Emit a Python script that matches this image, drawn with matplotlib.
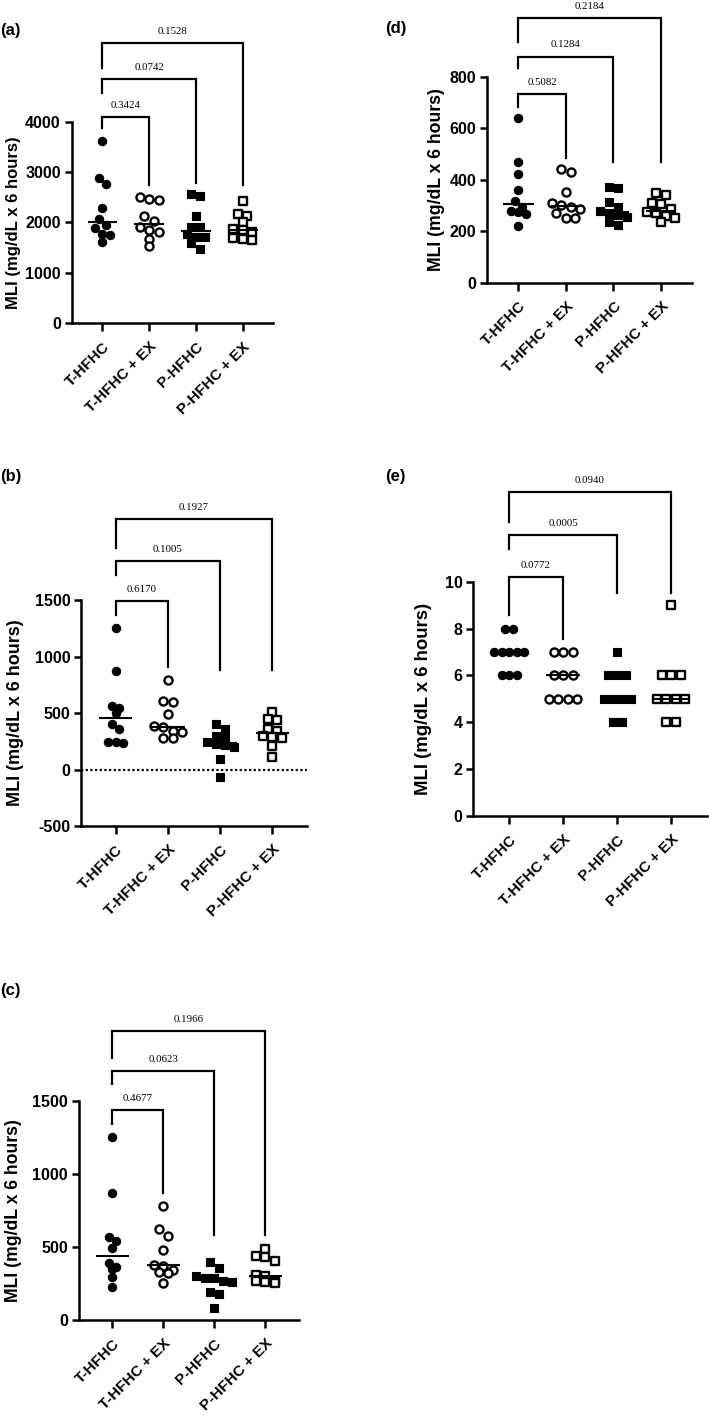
import matplotlib
matplotlib.use('Agg')
import matplotlib.pyplot as plt
import numpy as np

plt.rcParams['font.family'] = ['Liberation Sans', 'DejaVu Sans']
plt.rcParams['font.weight'] = 'bold'

groups = ['T-HFHC', 'T-HFHC + EX', 'P-HFHC', 'P-HFHC + EX']

# panel (a)
a_t = [3615, 2875, 2756, 2292, 2068, 1949, 1883, 1765, 1760, 1618]
a_tex = [2499, 2465, 2445, 2134, 2035, 1916, 1850, 1817, 1672, 1539]
a_p = [2564, 2531, 2134, 1904, 1900, 1771, 1717, 1705, 1586, 1473]
a_pex = [2420, 2170, 2130, 2010, 1870, 1840, 1820, 1700, 1670, 1650]
a_pvals = ['0.3424', '0.0742', '0.1528']

# panel (b)
b_t = [1257, 873, 563, 549, 501, 407, 357, 244, 240, 236]
b_tex = [790, 607, 600, 490, 385, 375, 345, 330, 280, 275]
b_p = [407, 355, 300, 290, 240, 230, 215, 200, 90, -65]
b_pex = [510, 450, 440, 360, 340, 300, 290, 280, 210, 110]
b_pvals = ['0.6170', '0.1005', '0.1927']

# panel (c)
c_t = [1251, 872, 566, 543, 491, 392, 365, 347, 297, 224]
c_tex = [781, 621, 578, 480, 380, 370, 340, 330, 320, 256]
c_p = [395, 354, 300, 290, 285, 270, 260, 195, 180, 85]
c_pex = [490, 440, 430, 405, 310, 300, 270, 265, 260, 255]
c_pvals = ['0.4677', '0.0623', '0.1966']

# panel (d)
d_t = [638, 470, 420, 358, 318, 295, 280, 275, 265, 220]
d_tex = [440, 428, 353, 308, 300, 292, 285, 270, 252, 250]
d_p = [372, 368, 312, 295, 280, 270, 262, 255, 235, 222]
d_pex = [350, 340, 310, 305, 285, 275, 270, 260, 250, 235]
d_pvals = ['0.5082', '0.1284', '0.2184']

# panel (e)
e_t = [8, 8, 7, 7, 7, 7, 7, 6, 6, 6]
e_tex = [7, 7, 7, 6, 6, 6, 5, 5, 5, 5]
e_p = [7, 6, 6, 6, 5, 5, 5, 5, 4, 4]
e_pex = [9, 6, 6, 6, 5, 5, 5, 5, 4, 4]
e_pvals = ['0.0772', '0.0005', '0.0940']

# bracket levels (data units): top, left-leg end, right-leg end
a_br = ([4097, 4839, 5564], [3867, 4573, 5057], [2743, 2782, 2743])
b_br = ([1492, 1846, 2221], [1366, 1725, 1965], [908, 879, 879])
c_br = ([1438, 1706, 1980], [1343, 1614, 1793], [868, 582, 582])
d_br = ([733, 878, 1027], [683, 832, 936], [485, 470, 470])
e_br = ([10.19, 11.99, 13.84], [8.58, 11.38, 12.56], [7.55, 9.53, 9.53])

XLIM = (-0.66, 3.66)


def rows_layout(vals, px_x, px_y, step_px, row_px=6.5):
    # Prism-like scatter: values close in pixel space share a row, spread evenly about centre
    vals = np.asarray(vals, float)
    order = np.argsort(-vals, kind='stable')
    offs = np.zeros(len(vals))
    row = [order[0]]
    rows = []
    for i in order[1:]:
        if (vals[row[0]] - vals[i]) * px_y < row_px:
            row.append(i)
        else:
            rows.append(row)
            row = [i]
    rows.append(row)
    for r in rows:
        n = len(r)
        pos = (np.arange(n) - (n - 1) / 2) * step_px
        for k, i in enumerate(r):
            offs[i] = pos[k]
    return offs / px_x


def panel(fig, rect, data, ylim, yticks, pvals, br, label, lab_pos, ysize, ylab_x, zero_line=False):
    ax = fig.add_axes(rect)
    ax.set_xlim(*XLIM)
    ax.set_ylim(*ylim)
    fw, fh = fig.get_size_inches() * fig.dpi
    px_x = rect[2] * fw / (XLIM[1] - XLIM[0])
    px_y = rect[3] * fh / (ylim[1] - ylim[0])

    styles = [dict(marker='o', facecolor='black', edgecolor='black', s=36, linewidths=0.8),
              dict(marker='o', facecolor='white', edgecolor='black', s=34, linewidths=1.7),
              dict(marker='s', facecolor='black', edgecolor='black', s=38, linewidths=0.8),
              dict(marker='s', facecolor='white', edgecolor='black', s=36, linewidths=1.7)]
    steps = [7.5, 9.5, 9.0, 9.5]
    for i, vals in enumerate(data):
        xo = rows_layout(vals, px_x, px_y, steps[i])
        ax.scatter(i + xo, vals, zorder=3, clip_on=False, **styles[i])
        med = np.median(vals)
        ax.plot([i - 0.32, i + 0.32], [med, med], color='black', lw=1.5, zorder=4,
                solid_capstyle='butt')

    if zero_line:
        ax.axhline(0, color='black', lw=1.6, ls=(0, (1, 1.1)), zorder=1)

    tops, lefts, rights = br
    for k in range(3):
        j = k + 1
        ax.plot([0, 0, j, j], [lefts[k], tops[k], tops[k], rights[k]], color='black',
                lw=1.6, clip_on=False, solid_joinstyle='miter', zorder=2)
        ax.annotate(pvals[k], xy=(j / 2, tops[k]), xytext=(0, 8.3), textcoords='offset points',
                    ha='center', va='center', fontsize=7.8, fontweight='normal',
                    family=['Liberation Serif', 'DejaVu Serif'], annotation_clip=False)

    for s in ['top', 'right']:
        ax.spines[s].set_visible(False)
    for s in ['left', 'bottom']:
        ax.spines[s].set_linewidth(1.8)
    ax.set_yticks(yticks)
    ax.set_yticklabels([str(t) for t in yticks], fontsize=11.5, fontweight='bold')
    ax.set_xticks(range(4))
    ax.set_xticklabels(groups, rotation=45, ha='right', va='top', rotation_mode='anchor',
                       fontsize=11, fontweight='bold')
    ax.tick_params(axis='y', width=1.8, length=4.8, pad=3)
    ax.tick_params(axis='x', width=1.8, length=5.8, pad=6)
    ax.set_ylabel('MLI (mg/dL x 6 hours)', fontsize=ysize, fontweight='bold')
    ax.yaxis.set_label_coords(ylab_x, 0.5)
    fig.text(lab_pos[0], lab_pos[1], label, fontsize=12, fontweight='bold',
             ha='left', va='center')
    return ax


fig = plt.figure(figsize=(7.09, 14.24), dpi=100)

panel(fig, [0.1011, 0.7730, 0.2845, 0.1416], [a_t, a_tex, a_p, a_pex], (0, 4000),
      [0, 1000, 2000, 3000, 4000], a_pvals, a_br, '(a)', (0.0, 1 - 30 / 1424), 12, -0.253)
panel(fig, [0.1145, 0.4199, 0.3181, 0.1587], [b_t, b_tex, b_p, b_pex], (-500, 1500),
      [-500, 0, 500, 1000, 1500], b_pvals, b_br, '(b)', (0.0, 1 - 476.7 / 1424), 13, -0.254,
      zero_line=True)
panel(fig, [0.1109, 0.0730, 0.3107, 0.1538], [c_t, c_tex, c_p, c_pex], (0, 1500),
      [0, 500, 1000, 1500], c_pvals, c_br, '(c)', (0.0, 1 - 990 / 1424), 12.7, -0.256)
panel(fig, [0.6867, 0.8015, 0.2900, 0.1447], [d_t, d_tex, d_p, d_pex], (0, 800),
      [0, 200, 400, 600, 800], d_pvals, d_br, '(d)', (385 / 709, 1 - 28 / 1424), 12.7, -0.204)
panel(fig, [0.6677, 0.4270, 0.3290, 0.1645], [e_t, e_tex, e_p, e_pex], (0, 10),
      [0, 2, 4, 6, 8, 10], e_pvals, e_br, '(e)', (385 / 709, 1 - 476.7 / 1424), 13.4, -0.176)

fig.savefig('out.png', dpi=100)
